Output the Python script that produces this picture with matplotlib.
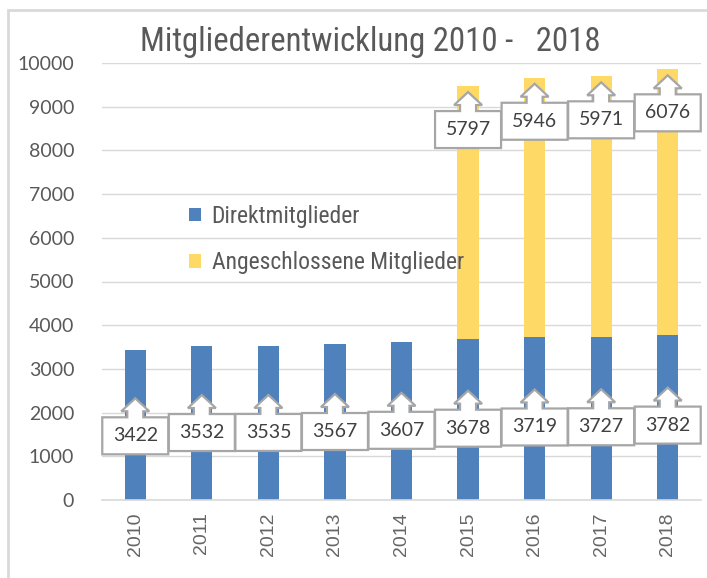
import matplotlib
matplotlib.use("Agg")
import matplotlib.pyplot as plt
from matplotlib import font_manager
from matplotlib.patches import Polygon, Rectangle
import matplotlib.transforms as mtransforms
import numpy as np

# ---- data ----
years = ["2010", "2011", "2012", "2013", "2014", "2015", "2016", "2017", "2018"]
direkt = [3422, 3532, 3535, 3567, 3607, 3678, 3719, 3727, 3782]
angeschlossen = [0, 0, 0, 0, 0, 5797, 5946, 5971, 6076]
title = "Mitgliederentwicklung 2010 -   2018"
legend_labels = ["Direktmitglieder", "Angeschlossene Mitglieder"]
yticks = [0, 1000, 2000, 3000, 4000, 5000, 6000, 7000, 8000, 9000, 10000]

BLUE = "#4f81bd"
YELLOW = "#ffd966"
GREY_TXT = "#595959"

names = {f.name for f in font_manager.fontManager.ttflist}
narrow = None
for cand in ["Liberation Sans Narrow", "Roboto Condensed", "Open Sans Condensed", "DejaVu Sans"]:
    if cand in names:
        narrow = cand
        break
num_font = "Lato" if "Lato" in names else "DejaVu Sans"
tick_font = "Liberation Sans" if "Liberation Sans" in names else "DejaVu Sans"

fig = plt.figure(figsize=(7.07, 5.78), dpi=100)
ax = fig.add_axes([102 / 707, 78 / 578, 599 / 707, 437 / 578])

x = np.arange(len(years))
w = 0.32
ax.bar(x, direkt, w, color=BLUE, label=legend_labels[0], zorder=2)
ax.bar(x, angeschlossen, w, bottom=direkt, color=YELLOW, label=legend_labels[1], zorder=2)

ax.set_xlim(-0.5, len(years) - 0.5)
ax.set_ylim(0, 10000)
ax.set_yticks(yticks)
ax.set_xticks(x)
ax.set_xticklabels(years, rotation=90, fontsize=14, color="#666666", family=tick_font)
for lab in ax.get_yticklabels():
    lab.set_fontsize(14)
    lab.set_color(GREY_TXT)
    lab.set_family(num_font)
ax.tick_params(axis="both", length=0)
ax.tick_params(axis="y", pad=20)
ax.tick_params(axis="x", pad=9)
ax.grid(axis="y", color="#d9d9d9", lw=1, zorder=0)
for s in ["left", "right", "top"]:
    ax.spines[s].set_visible(False)
ax.spines["bottom"].set_color("#d9d9d9")
ax.spines["bottom"].set_linewidth(1.2)

# callout shape (pixels, tip at origin)
verts_px = np.array([
    (0, 0), (14, -13), (8, -13), (8, -19), (33, -19), (33, -56),
    (-33, -56), (-33, -19), (-8, -19), (-8, -13), (-14, -13)
])
verts_in = verts_px / 100.0


def callout(xv, ytip, text):
    tr = fig.dpi_scale_trans + mtransforms.ScaledTranslation(xv, ytip, ax.transData)
    poly = Polygon(verts_in, closed=True, transform=tr, facecolor="white",
                   edgecolor="#a6a6a6", lw=1.6, zorder=5, clip_on=False)
    ax.add_patch(poly)
    ax.annotate(text, xy=(xv, ytip), xytext=(0, -37.5 * 0.72), textcoords="offset points",
                ha="center", va="center", fontsize=14, color="#404040",
                family=num_font, zorder=6)


for i in range(len(years)):
    callout(x[i], direkt[i] * 0.68, str(direkt[i]))
for i in range(len(years)):
    if angeschlossen[i] > 0:
        callout(x[i], direkt[i] + angeschlossen[i] - 140, str(angeschlossen[i]))

# title, fit to width
t = fig.text(370 / 707, 1 - 42 / 578, title, ha="center", va="center",
             fontsize=20, color=GREY_TXT, family=narrow)
fig.canvas.draw()
bb = t.get_window_extent()
t.set_fontsize(20 * 460 / bb.width)

# legend: fit label width
probe = fig.text(0, 0, legend_labels[1], fontsize=14, family=narrow)
fig.canvas.draw()
lsz = 14 * 255 / probe.get_window_extent().width
probe.remove()
row_px = 47.0
font_px = lsz * 100 / 72
spacing = (row_px - font_px) / font_px

leg = ax.legend(loc="upper left", bbox_to_anchor=((189 - 102) / 599, (500 - 205) / 437),
                frameon=False, handlelength=0.5, handleheight=0.5,
                handletextpad=0.45, labelspacing=spacing, borderpad=0, borderaxespad=0,
                prop={"family": narrow, "size": lsz})
for txt in leg.get_texts():
    txt.set_color(GREY_TXT)

fig.patches.append(Rectangle((8 / 707, -0.1), 1.2, 1.1 - 10 / 578 + 0.0,
                             transform=fig.transFigure, fill=False,
                             edgecolor="#d9d9d9", lw=2))

fig.savefig("out.png", dpi=100)
